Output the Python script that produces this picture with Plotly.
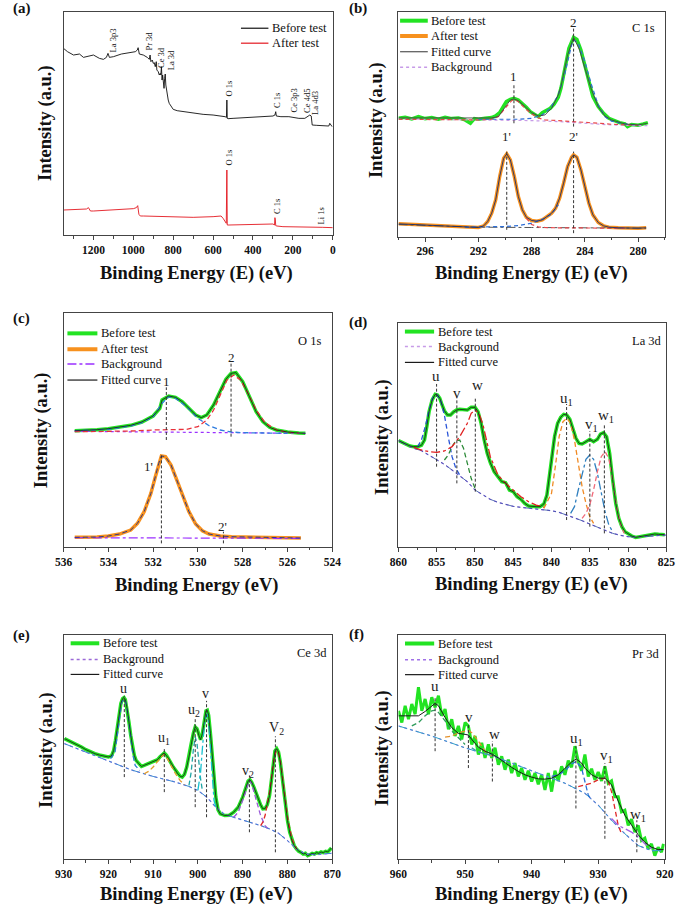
import plotly.graph_objects as go

SERIF = "Liberation Serif"
GREEN = "#22e322"
ORANGE = "#f7911e"
FIT = "#1a1a1a"

# ---------------- (a) survey ----------------
A_BEFORE_X = [1350, 1330, 1300, 1270, 1250, 1230, 1200, 1170, 1150, 1135, 1127, 1120, 1100, 1060, 1020, 990, 980, 976,
              970, 950, 930, 920, 916, 912, 905, 900, 895, 890, 885, 882, 875, 870, 865, 862, 859, 856, 853, 849, 846,
              843, 840, 837, 833, 830, 825, 820, 812, 800, 780, 750, 700, 650, 600, 560, 540, 533, 531, 529, 525, 500,
              450, 400, 350, 300, 290, 286, 283, 260, 220, 200, 170, 140, 125, 115, 108, 103, 80, 40, 20, 15, 10, 3]
A_BEFORE_Y = [560, 550, 540, 543, 533, 535, 540, 530, 527, 533, 545, 533, 535, 543, 547, 550, 555, 562,
              543, 540, 533, 527, 540, 520, 525, 515, 517, 505, 520, 495, 490, 480, 485, 480, 505, 465, 480, 455, 440,
              470, 483, 450, 430, 425, 405, 395, 387, 377, 373, 370, 365, 362, 360, 358, 355, 353, 405, 350, 349, 350,
              352, 353, 355, 357, 360, 370, 357, 355, 355, 353, 350, 350, 355, 360, 357, 330, 329, 328, 327, 335, 329, 325]
A_AFTER_X = [1350, 1300, 1250, 1235, 1225, 1215, 1200, 1150, 1100, 1050, 1000, 985, 978, 972, 965, 950, 900, 800, 700,
             600, 560, 550, 540, 534, 531, 529, 520, 450, 400, 350, 300, 292, 290, 288, 286, 280, 250, 200, 150, 100, 50, 0]
A_AFTER_Y = [75, 76, 77, 78, 82, 72, 72, 74, 75, 77, 79, 82, 88, 62, 57, 57, 56, 55, 53,
             55, 57, 50, 40, 35, 195, 30, 30, 31, 31, 32, 33, 30, 52, 45, 28, 27, 25, 25, 24, 24, 23, 22]
A_LABELS = ["La 3p3", "Pr 3d", "Ce 3d", "La 3d", "O 1s", "C 1s", "Ce 3p3", "Ce 4d5", "La 4d3", "O 1s", "C 1s", "Li 1s"]
A_LABEL_X = [1100, 922, 858, 810, 520, 283, 192, 133, 93, 520, 283, 57]
A_LABEL_Y = [585, 583, 533, 525, 440, 403, 405, 403, 397, 233, 85, 57]

# ---------------- (b) C 1s ----------------
B_BEFORE_X = [298.0, 297.5, 297.0, 296.5, 296.0, 295.5, 295.0, 294.5, 294.0, 293.5, 293.0, 292.6, 292.3, 292.0, 291.5,
              291.0, 290.7, 290.4, 290.1, 289.9, 289.6, 289.33, 289.0, 288.7, 288.4, 288.1, 287.8, 287.5, 287.2, 286.9,
              286.6, 286.3, 286.0, 285.8, 285.5, 285.2, 284.85, 284.6, 284.3, 284.0, 283.7, 283.4, 283.0, 282.6, 282.2,
              281.8, 281.4, 281.0, 280.8, 280.5, 280.0, 279.6, 279.27]
B_BEFORE_Y = [355, 358, 353, 360, 354, 357, 352, 358, 354, 356, 350, 340, 354, 352, 355,
              357, 362, 372, 392, 405, 412, 415, 410, 400, 388, 375, 366, 360, 372, 380,
              385, 398, 418, 445, 505, 565, 598, 592, 560, 510, 460, 420, 390, 370, 355,
              348, 342, 338, 330, 336, 334, 338, 342]
B_FIT_X = [298, 294, 291, 290.5, 290, 289.6, 289.33, 289, 288.5, 288, 287.5, 287, 286.5, 286, 285.8, 285.3, 284.85,
           284.4, 284, 283.5, 283, 282.5, 282, 281, 280, 279.3]
B_FIT_Y = [356, 355, 356, 360, 390, 410, 413, 408, 390, 372, 362, 365, 385, 425, 450, 545, 598,
           560, 505, 440, 390, 362, 350, 338, 335, 340]
B_C1_X = [298, 292, 291, 290.5, 290, 289.5, 289.33, 289, 288.5, 288, 287.5, 287, 286, 285, 284, 283, 282, 281, 280]
B_C1_Y = [352, 350, 352, 360, 385, 408, 412, 405, 385, 368, 356, 350, 348, 346, 343, 340, 337, 335, 334]
B_C2_X = [292, 289, 288, 287.2, 286.6, 286, 285.5, 285, 284.85, 284.5, 284, 283.5, 283, 282.5, 282, 281, 280]
B_C2_Y = [352, 352, 355, 365, 385, 425, 490, 575, 590, 580, 525, 455, 395, 360, 346, 338, 334]
B_BG_X = [298, 290, 288, 286, 284, 282, 280, 279.3]
B_BG_Y = [353, 350, 348, 345, 340, 335, 333, 333]
B_AFTER_X = [298.0, 297.5, 297.0, 296.5, 296.0, 295.5, 295.0, 294.5, 294.0, 293.5, 293.0, 292.5, 292.0, 291.6, 291.3,
             291.0, 290.7, 290.4, 290.1, 289.87, 289.6, 289.3, 289.0, 288.7, 288.4, 288.0, 287.6, 287.2, 286.8, 286.5,
             286.2, 285.9, 285.6, 285.3, 285.0, 284.85, 284.6, 284.3, 284.0, 283.7, 283.4, 283.0, 282.6, 282.2, 281.5,
             281.0, 280.5, 280.0, 279.4]
B_AFTER_Y = [38, 37, 35, 34, 33, 32, 32, 30, 30, 28, 28, 27, 27, 32, 45,
             70, 110, 180, 235, 248, 230, 180, 120, 80, 58, 48, 46, 50, 60, 70,
             85, 115, 160, 210, 238, 245, 238, 200, 150, 100, 65, 42, 32, 28, 26,
             25, 25, 25, 26]
B_AC1_X = [288.4, 288, 287.5, 287, 286, 285, 284, 283, 282, 281]
B_AC1_Y = [55, 36, 29, 27, 26, 26, 25, 25, 25, 25]
B_AC2_X = [293, 291, 290, 289, 288, 287, 286.5, 286]
B_AC2_Y = [28, 28, 30, 33, 40, 55, 68, 95]
B_ABG_X = [298, 292, 288, 284, 280, 279.4]
B_ABG_Y = [36, 28, 27, 26, 25, 25]
B_MARK_X = [289.33, 284.85, 289.87, 284.85]
B_MARK_TOP = [460, 625, 255, 255]
B_MARK_BOT = [340, 330, 20, 10]
B_TXT = ["1", "2", "1'", "2'"]
B_TXT_X = [289.33, 284.85, 289.9, 284.85]
B_TXT_Y = [480, 644, 300, 300]

# ---------------- (c) O 1s ----------------
C_BEFORE_X = [535.5, 535.0, 534.5, 534.0, 533.5, 533.0, 532.5, 532.0, 531.7, 531.6, 531.3, 531.0, 530.7, 530.4, 530.1,
              529.85, 529.6, 529.3, 529.0, 528.75, 528.52, 528.3, 528.0, 527.7, 527.4, 527.1, 526.8, 526.5, 526.0,
              525.5, 525.2]
C_BEFORE_Y = [348, 349, 351, 354, 358, 364, 374, 392, 415, 440, 452, 448, 435, 415, 395,
              387, 395, 425, 465, 502, 520, 522, 495, 450, 405, 375, 358, 350, 344,
              341, 340]
C_C1_X = [535.5, 534, 533, 532.5, 532, 531.6, 531.3, 531, 530.5, 530, 529.5, 529, 528.5, 528, 527, 526]
C_C1_Y = [348, 352, 362, 372, 390, 430, 450, 445, 420, 385, 363, 350, 344, 342, 341, 340]
C_C2_X = [535.5, 534, 533, 532, 531, 530.5, 530, 529.6, 529.3, 529, 528.7, 528.4, 528.1, 527.8, 527.4, 527, 526.5,
          526, 525.5]
C_C2_Y = [345, 345, 347, 350, 350, 352, 360, 380, 410, 455, 500, 515, 500, 465, 410, 372, 350, 343, 341]
C_BG_X = [535.5, 530, 525.2]
C_BG_Y = [346, 343, 340]
C_AFTER_X = [535.5, 535.0, 534.5, 534.0, 533.5, 533.0, 532.7, 532.4, 532.1, 531.9, 531.75, 531.63, 531.45, 531.2,
             531.0, 530.7, 530.4, 530.1, 529.8, 529.5, 529.0, 528.5, 528.0, 527.0, 526.0, 525.4]
C_AFTER_Y = [28, 28, 29, 32, 38, 50, 70, 105, 160, 210, 250, 272, 270, 245,
             210, 155, 105, 68, 48, 38, 32, 30, 29, 28, 26, 26]
C_ABG_X = [535.5, 525.4]
C_ABG_Y = [27, 25]
C_MARK_X = [531.41, 528.52, 531.63, 528.86]
C_MARK_TOP = [478, 550, 275, 45]
C_MARK_BOT = [320, 330, 10, 10]
C_TXT = ["1", "2", "1'", "2'"]
C_TXT_X = [531.41, 528.52, 532.2, 528.88]
C_TXT_Y = [496, 568, 240, 61]

# ---------------- (d) La 3d ----------------
D_BEFORE_X = [860.0, 859.5, 859.0, 858.5, 858.0, 857.5, 857.0, 856.6, 856.3, 856.0, 855.6, 855.2, 854.9, 854.6, 854.3,
              854.0, 853.6, 853.2, 852.8, 852.4, 852.0, 851.5, 851.0, 850.5, 850.0, 849.6, 849.2, 848.8, 848.4, 848.0,
              847.5, 847.0, 846.5, 846.0, 845.5, 845.0, 844.5, 844.0, 843.5, 843.0, 842.5, 842.0, 841.5, 841.0, 840.6,
              840.3, 840.0, 839.6, 839.2, 838.8, 838.4, 838.0, 837.6, 837.2, 836.8, 836.4, 836.0, 835.5, 835.0, 834.5,
              834.0, 833.6, 833.2, 832.8, 832.4, 832.0, 831.6, 831.2, 830.8, 830.4, 830.0, 829.5, 829.0, 828.5, 828.0,
              827.5, 827.0, 826.5, 826.0, 825.5, 825.2]
D_BEFORE_Y = [318, 312, 308, 302, 300, 300, 304, 320, 360, 405, 440, 457, 455, 445, 425,
              408, 395, 395, 404, 410, 412, 410, 410, 418, 418, 405, 370, 320, 280, 252,
              225, 210, 195, 192, 170, 165, 150, 142, 130, 122, 120, 120, 120, 128, 155,
              210, 270, 330, 370, 388, 397, 395, 382, 355, 325, 310, 308, 315, 322, 315,
              322, 338, 342, 330, 280, 200, 130, 85, 60, 45, 38, 32, 28, 30, 32,
              35, 37, 38, 37, 35, 36]
D_BG_X = [860, 858, 857, 856, 855, 854, 853, 852, 851, 850, 849, 848, 847, 846, 845, 844, 843, 842, 841, 840, 839, 838,
          837, 836, 835, 834, 833, 832, 831, 830, 829, 828, 826, 825]
D_BG_Y = [318, 295, 288, 275, 262, 247, 230, 212, 195, 170, 155, 142, 133, 126, 121, 118, 116, 114, 112, 108, 103, 95,
          88, 78, 68, 58, 48, 40, 34, 30, 29, 30, 34, 35]
D_U_X = [857.5, 857, 856.5, 856, 855.5, 855, 854.5, 854, 853.5, 853, 852.5, 852]
D_U_Y = [300, 320, 360, 410, 448, 457, 440, 395, 330, 270, 235, 215]
D_V_X = [854, 853.5, 853, 852.5, 852, 851.5, 851, 850.5, 850]
D_V_Y = [260, 275, 300, 318, 320, 295, 250, 205, 175]
D_W_X = [858, 857, 856, 855, 854, 853, 852, 851, 850.5, 850, 849.5, 849, 848, 847, 846, 845, 844, 843, 842, 841]
D_W_Y = [298, 290, 285, 283, 287, 300, 330, 370, 400, 410, 400, 370, 270, 215, 190, 170, 150, 135, 125, 118]
D_U1_X = [841, 840, 839.5, 839, 838.5, 838, 837.5, 837, 836.5, 836, 835.5, 835, 834.5]
D_U1_Y = [115, 160, 240, 330, 375, 385, 370, 320, 250, 180, 130, 90, 70]
D_V1_X = [837.5, 837, 836.5, 836, 835.5, 835, 834.5, 834, 833.5, 833, 832.5, 832]
D_V1_Y = [100, 120, 170, 220, 262, 275, 262, 220, 160, 105, 65, 45]
D_W1_X = [836, 835.5, 835, 834.5, 834, 833.5, 833, 832.5, 832, 831.5, 831, 830.5]
D_W1_Y = [85, 100, 125, 170, 225, 270, 285, 265, 200, 120, 70, 40]
D_MARK_X = [855.02, 852.37, 849.96, 838.03, 834.99, 833.09]
D_MARK_TOP = [488, 448, 450, 428, 347, 368]
D_MARK_BOT = [240, 190, 165, 80, 60, 40]
D_TXT = ["u", "v", "w", "u<sub>1</sub>", "v<sub>1</sub>", "w<sub>1</sub>"]
D_TXT_X = [855.1, 852.4, 849.7, 838.0, 834.8, 832.9]
D_TXT_Y = [512, 462, 485, 442, 365, 392]

# ---------------- (e) Ce 3d ----------------
E_BEFORE_X = [929.8, 929.0, 928.0, 927.0, 926.0, 925.0, 924.0, 923.0, 922.0, 921.0, 920.0, 919.3, 918.8, 918.4, 918.0,
              917.6, 917.2, 916.8, 916.5, 916.2, 915.8, 915.4, 915.0, 914.6, 914.2, 913.8, 913.2, 912.6, 912.0, 911.4,
              910.8, 910.2, 909.6, 909.0, 908.5, 908.0, 907.5, 907.0, 906.5, 906.0, 905.5, 905.0, 904.5, 904.0, 903.5,
              903.0, 902.5, 902.0, 901.5, 901.0, 900.6, 900.2, 899.8, 899.4, 899.0, 898.6, 898.2, 897.9, 897.6, 897.2,
              896.8, 896.4, 896.0, 895.5, 895.0, 894.0, 893.0, 892.0, 891.0, 890.0, 889.3, 888.8, 888.4, 888.0, 887.5,
              887.0, 886.5, 886.0, 885.5, 885.0, 884.5, 884.0, 883.6, 883.2, 882.8, 882.4, 882.0, 881.6, 881.2, 880.8,
              880.4, 880.0, 879.5, 879.0, 878.5, 878.0, 877.5, 877.0, 876.5, 876.0, 875.5, 875.0, 874.5, 874.0, 873.5,
              873.0, 872.5, 872.0, 871.5, 871.0, 870.5, 870.2]
E_BEFORE_Y = [360, 355, 347, 341, 335, 327, 320, 315, 311, 307, 305, 308, 325, 355, 395,
              435, 465, 480, 483, 477, 450, 410, 370, 335, 310, 295, 285, 277, 280, 283,
              287, 290, 293, 297, 305, 313, 317, 310, 300, 287, 275, 265, 255, 248, 245,
              253, 275, 305, 345, 377, 395, 390, 370, 357, 375, 415, 443, 445, 430, 375,
              305, 235, 185, 147, 135, 130, 131, 140, 155, 185, 215, 233, 237, 230, 215,
              200, 180, 162, 150, 151, 163, 190, 235, 285, 323, 330, 320, 290, 245, 195,
              150, 115, 80, 55, 40, 30, 23, 20, 15, 17, 10, 13, 17, 15, 19,
              17, 21, 19, 23, 21, 27, 33]
E_BG_X = [929.8, 925, 920, 915, 910, 905, 902, 900, 898, 896, 894, 892, 890, 888, 886, 884, 882, 880, 878, 876, 874,
          872, 870.2]
E_BG_Y = [345, 320, 295, 267, 247, 230, 217, 205, 185, 155, 133, 125, 117, 109, 100, 90, 77, 55, 30, 15, 13, 15, 17]
E_U_X = [919.5, 918.5, 918, 917.5, 917, 916.4, 916, 915.5, 915, 914.5, 914, 913]
E_U_Y = [300, 320, 370, 430, 470, 478, 465, 420, 360, 310, 280, 265]
E_U1_X = [912, 911, 910, 909, 908, 907.5, 907, 906, 905, 904, 903]
E_U1_Y = [255, 262, 275, 292, 308, 312, 305, 280, 255, 235, 222]
E_U2_X = [902, 901.5, 901, 900.6, 900.2, 899.8, 899.4, 899]
E_U2_Y = [220, 260, 330, 365, 345, 290, 240, 205]
E_V_X = [900, 899.4, 899, 898.5, 898, 897.6, 897.2, 896.8, 896.4, 896]
E_V_Y = [205, 260, 330, 410, 435, 410, 330, 240, 175, 155]
E_V2_X = [892, 891, 890, 889, 888.5, 888, 887, 886, 885, 884.5]
E_V2_Y = [125, 140, 175, 220, 235, 225, 180, 130, 100, 92]
E_VV2_X = [886, 885.5, 885, 884.5, 884, 883.5, 883, 882.5, 882, 881.5, 881, 880.5, 880, 879, 878]
E_VV2_Y = [100, 110, 130, 160, 200, 250, 300, 325, 318, 285, 240, 180, 125, 60, 30]
E_MARK_X = [916.43, 907.5, 900.6, 898.07, 888.5, 882.7]
E_MARK_TOP = [487, 330, 420, 473, 250, 367]
E_MARK_BOT = [245, 200, 155, 125, 80, 20]
E_TXT = ["u", "u<sub>1</sub>", "u<sub>2</sub>", "v", "v<sub>2</sub>", "V<sub>2</sub>"]
E_TXT_X = [916.5, 907.5, 900.9, 898.2, 888.8, 882.4]
E_TXT_Y = [511, 361, 443, 495, 262, 390]

# ---------------- (f) Pr 3d ----------------
F_BEFORE_X = [960.0, 959.5, 959.0, 958.5, 958.0, 957.5, 957.0, 956.5, 956.0, 955.5,
              955.0, 954.5, 954.0, 953.5, 953.0, 952.5, 952.0, 951.5, 951.0, 950.5,
              950.0, 949.5, 949.0, 948.5, 948.0, 947.5, 947.0, 946.5, 946.0, 945.5,
              945.0, 944.5, 944.0, 943.5, 943.0, 942.5, 942.0, 941.5, 941.0, 940.5,
              940.0, 939.5, 939.0, 938.5, 938.0, 937.5, 937.0, 936.5, 936.0, 935.5,
              935.0, 934.5, 934.0, 933.5, 933.0, 932.5, 932.0, 931.5, 931.0, 930.5,
              930.0, 929.5, 929.0, 928.5, 928.0, 927.5, 927.0, 926.5, 926.0, 925.5,
              925.0, 924.5, 924.0, 923.5, 923.0, 922.5, 922.0, 921.5, 921.0, 920.5, 920.2]
F_BEFORE_Y = [440, 405, 455, 415, 460, 430, 510, 440, 475, 430,
              480, 450, 485, 425, 445, 385, 415, 365, 395, 355,
              405, 395, 340, 365, 310, 345, 300, 340, 300, 330,
              280, 305, 265, 295, 255, 285, 245, 270, 235, 262,
              230, 255, 222, 250, 205, 255, 200, 262, 232, 275,
              250, 292, 272, 335, 290, 262, 310, 245, 268, 235,
              258, 232, 275, 225, 232, 185, 185, 140, 145, 100,
              118, 80, 100, 55, 62, 30, 45, 10, 35, 20, 45]
F_FIT_X = [960.0, 958.0, 957.0, 956.0, 955.0, 954.5, 954.0, 953.0, 952.0, 951.0, 950.0, 949.5, 949.0, 948.0, 947.0,
           946.0, 945.0, 944.0, 943.0, 942.0, 941.0, 940.0, 939.0, 938.0, 937.0, 936.0, 935.0, 934.0, 933.3, 932.5,
           932.0, 931.0, 930.0, 929.0, 928.0, 927.0, 926.0, 925.0, 924.0, 923.0, 922.0, 921.0, 920.2]
F_FIT_Y = [425, 425, 425, 438, 455, 462, 455, 420, 390, 373, 370, 368, 355, 332, 320,
           312, 300, 285, 272, 260, 250, 243, 238, 237, 240, 250, 268, 288, 297, 285,
           270, 250, 240, 240, 220, 172, 130, 100, 72, 50, 35, 28, 28]
F_BG_X = [960, 955, 950, 945, 940, 935, 932, 930, 928, 926, 924, 922, 920.2]
F_BG_Y = [395, 365, 330, 300, 262, 225, 195, 160, 115, 75, 40, 25, 25]
F_U_X = [958, 957, 956, 955, 954.5, 954, 953, 952, 951, 950]
F_U_Y = [395, 405, 425, 440, 442, 435, 410, 380, 360, 340]
F_V_X = [953, 952, 951, 950, 949.5, 949, 948, 947, 946]
F_V_Y = [362, 365, 375, 380, 382, 375, 350, 320, 305]
F_W_X = [949, 948, 947, 946, 945, 944]
F_W_Y = [330, 318, 312, 310, 300, 290]
F_U1_X = [937, 936, 935, 934, 933.3, 932.5, 932, 931.5, 931]
F_U1_Y = [245, 250, 262, 282, 290, 270, 230, 190, 175]
F_V1_X = [933, 932, 931, 930, 929, 928.5, 928, 927.5, 927, 926.5]
F_V1_Y = [215, 220, 225, 235, 240, 230, 200, 150, 100, 75]
F_W1_X = [928, 927, 926, 925, 924, 923, 922]
F_W1_Y = [120, 100, 90, 80, 65, 45, 30]
F_MARK_X = [954.5, 949.5, 945.9, 933.35, 929.0, 924.2]
F_MARK_TOP = [478, 400, 350, 335, 285, 115]
F_MARK_BOT = [320, 270, 230, 150, 60, 20]
F_TXT = ["u", "v", "w", "u<sub>1</sub>", "v<sub>1</sub>", "w<sub>1</sub>"]
F_TXT_X = [954.5, 949.4, 945.6, 933.3, 928.7, 924.0]
F_TXT_Y = [514, 422, 372, 356, 307, 130]

W, H = 685, 906
fig = go.Figure()


def sfx(i):
    return "" if i == 1 else str(i)


def curve(i, x, y, color, width=1.0, dash="solid"):
    fig.add_trace(go.Scatter(x=x, y=y, mode="lines", line=dict(color=color, width=width, dash=dash),
                             xaxis="x" + sfx(i), yaxis="y" + sfx(i), showlegend=False, hoverinfo="skip"))


def marks(i, xs, tops, bots, texts, tx, ty, size):
    for x, t, b in zip(xs, tops, bots):
        curve(i, [x, x], [b, t], "#333333", 1, "3px,2px")
    for s, x, y in zip(texts, tx, ty):
        fig.add_annotation(xref="x" + sfx(i), yref="y" + sfx(i), x=x, y=y, text=s, showarrow=False,
                           xanchor="center", yanchor="middle",
                           font=dict(family=SERIF, size=size, color="#222"))


def key(i, rows, x0, x1, ys):
    for (label, color, width, dash), y in zip(rows, ys):
        fig.add_shape(type="line", xref="x%s domain" % sfx(i), yref="y%s domain" % sfx(i),
                      x0=x0, x1=x1, y0=y, y1=y, line=dict(color=color, width=width, dash=dash))
        fig.add_annotation(xref="x%s domain" % sfx(i), yref="y%s domain" % sfx(i), x=x1 + 0.006, y=y,
                           xanchor="left", yanchor="middle", text=label, showarrow=False,
                           font=dict(family=SERIF, size=12.5, color="#111"))


def tag(i, text, x, y):
    fig.add_annotation(xref="x%s domain" % sfx(i), yref="y%s domain" % sfx(i), x=x, y=y, xanchor="right",
                       yanchor="middle", text=text, showarrow=False,
                       font=dict(family=SERIF, size=12.5, color="#111"))


def axes(i, x0, x1, y0, y1, xr, yr, dtick, minor):
    line = dict(showline=True, mirror=True, linecolor="#444", linewidth=1, showgrid=False, zeroline=False)
    fig.layout["xaxis" + sfx(i)] = dict(domain=[x0 / W, x1 / W], range=xr, dtick=dtick, tick0=0,
                                        ticks="outside", ticklen=4, tickwidth=1, tickcolor="#444",
                                        minor=dict(dtick=minor, ticks="outside", ticklen=2.5, tickcolor="#444"),
                                        tickfont=dict(family=SERIF, size=11.5, color="#111", weight="bold"),
                                        anchor="y" + sfx(i), **line)
    fig.layout["yaxis" + sfx(i)] = dict(domain=[1 - y1 / H, 1 - y0 / H], range=yr, showticklabels=False,
                                        ticks="", anchor="x" + sfx(i), **line)


axes(1, 56, 332.5, 11.7, 235, [1350, 0], [0, 670], 200, 100)
axes(2, 400, 673.5, 11.7, 236.5, [298, 278], [0, 675], 4, 2)
axes(3, 56, 332, 313.3, 546.7, [536, 524], [0, 700], 2, 1)
axes(4, 400, 675, 323.3, 546.7, [860, 825], [0, 670], 5, 2.5)
axes(5, 56, 332, 635, 859, [930, 870], [0, 670], 10, 5)
axes(6, 400, 673.5, 635, 859, [960, 920], [0, 665], 10, 5)

# (a)
curve(1, A_BEFORE_X, A_BEFORE_Y, "#111111", 0.9)
curve(1, A_AFTER_X, A_AFTER_Y, "#e3171f", 0.9)
for s, x, y in zip(A_LABELS, A_LABEL_X, A_LABEL_Y):
    fig.add_annotation(xref="x", yref="y", x=x, y=y, text=s, textangle=-90, showarrow=False,
                       xanchor="center", yanchor="middle",
                       font=dict(family=SERIF, size=8.5, color="#111"))
key(1, [("Before test", "#111111", 1.2, "solid"), ("After test", "#e3171f", 1.2, "solid")],
    0.659, 0.761, [0.926, 0.859])

# (b)
curve(2, B_BEFORE_X, B_BEFORE_Y, GREEN, 3.5)
curve(2, B_BG_X, B_BG_Y, "#c79be8", 1.2, "dot")
curve(2, B_C1_X, B_C1_Y, "#e8454a", 1.2, "4px,3px")
curve(2, B_C2_X, B_C2_Y, "#2f6fd6", 1.2, "4px,3px")
curve(2, B_FIT_X, B_FIT_Y, "#444444", 0.9)
curve(2, B_AFTER_X, B_AFTER_Y, ORANGE, 3.5)
curve(2, B_ABG_X, B_ABG_Y, "#555555", 1, "dashdot")
curve(2, B_AC1_X, B_AC1_Y, "#e8454a", 1.2, "4px,3px")
curve(2, B_AC2_X, B_AC2_Y, "#2f6fd6", 1.2, "4px,3px")
curve(2, B_AFTER_X, B_AFTER_Y, "#1c2f6e", 0.9)
marks(2, B_MARK_X, B_MARK_TOP, B_MARK_BOT, B_TXT, B_TXT_X, B_TXT_Y, 13)
key(2, [("Before test", GREEN, 4, "solid"), ("After test", ORANGE, 4, "solid"),
        ("Fitted curve", "#555555", 1.2, "solid"), ("Background", "#c79be8", 1.5, "dot")],
    0.006, 0.11, [0.96, 0.892, 0.822, 0.753])
tag(2, "C 1s", 0.97, 0.926)

# (c)
curve(3, C_BEFORE_X, C_BEFORE_Y, GREEN, 3.5)
curve(3, C_BG_X, C_BG_Y, "#9b30ff", 1.2, "dot")
curve(3, C_C2_X, C_C2_Y, "#e8303a", 1.3, "5px,3px")
curve(3, C_C1_X, C_C1_Y, "#2f7de0", 1.3, "5px,3px")
curve(3, C_BEFORE_X, C_BEFORE_Y, FIT, 0.8)
curve(3, C_AFTER_X, C_AFTER_Y, ORANGE, 3.5)
curve(3, C_ABG_X, C_ABG_Y, "#9b30ff", 1.2, "dashdot")
curve(3, C_AFTER_X, C_AFTER_Y, "#1c2f8e", 0.9, "5px,3px")
marks(3, C_MARK_X, C_MARK_TOP, C_MARK_BOT, C_TXT, C_TXT_X, C_TXT_Y, 13)
key(3, [("Before test", GREEN, 4, "solid"), ("After test", ORANGE, 4, "solid"),
        ("Background", "#9b30ff", 1.5, "dashdot"), ("Fitted curve", FIT, 1.2, "solid")],
    0.0145, 0.126, [0.914, 0.846, 0.783, 0.714])
tag(3, "O 1s", 0.964, 0.881)

# (d)
curve(4, D_BEFORE_X, D_BEFORE_Y, GREEN, 3.5)
curve(4, D_BG_X, D_BG_Y, "#a070e8", 1.2, "dot")
curve(4, D_BG_X, D_BG_Y, "#3050a0", 0.8, "dashdot")
curve(4, D_U_X, D_U_Y, "#2a55d8", 1.3, "5px,3px")
curve(4, D_V_X, D_V_Y, "#2e8b3a", 1.3, "5px,3px")
curve(4, D_W_X, D_W_Y, "#e02020", 1.3, "dashdot")
curve(4, D_U1_X, D_U1_Y, "#f08a24", 1.3, "5px,3px")
curve(4, D_V1_X, D_V1_Y, "#2f7fbf", 1.3, "dashdot")
curve(4, D_W1_X, D_W1_Y, "#f06a7a", 1.3, "5px,3px")
curve(4, D_BEFORE_X, D_BEFORE_Y, FIT, 0.8)
marks(4, D_MARK_X, D_MARK_TOP, D_MARK_BOT, D_TXT, D_TXT_X, D_TXT_Y, 15)
key(4, [("Before test", GREEN, 4, "solid"), ("Background", "#c79be8", 1.5, "dot"),
        ("Fitted curve", FIT, 1.2, "solid")],
    0.024, 0.133, [0.963, 0.896, 0.825])
tag(4, "La 3d", 0.99, 0.922)

# (e)
curve(5, E_BEFORE_X, E_BEFORE_Y, GREEN, 3.5)
curve(5, E_BG_X, E_BG_Y, "#a070e8", 1.2, "dot")
curve(5, E_BG_X, E_BG_Y, "#3a8ad0", 1.0, "dashdot")
curve(5, E_U_X, E_U_Y, "#2a7fd0", 1.3, "5px,3px")
curve(5, E_U1_X, E_U1_Y, "#e39a2a", 1.3, "5px,3px")
curve(5, E_U2_X, E_U2_Y, "#1fa5a5", 1.3, "5px,3px")
curve(5, E_V_X, E_V_Y, "#17c0d0", 1.3, "dashdot")
curve(5, E_V2_X, E_V2_Y, "#9a5ad8", 1.3, "5px,3px")
curve(5, E_VV2_X, E_VV2_Y, "#e02828", 1.3, "5px,3px")
curve(5, E_BEFORE_X, E_BEFORE_Y, FIT, 0.8)
marks(5, E_MARK_X, E_MARK_TOP, E_MARK_BOT, E_TXT, E_TXT_X, E_TXT_Y, 14)
key(5, [("Before test", GREEN, 4, "solid"), ("Background", "#9b6ad8", 1.5, "dot"),
        ("Fitted curve", FIT, 1.2, "solid")],
    0.0265, 0.133, [0.963, 0.891, 0.824])
tag(5, "Ce 3d", 0.988, 0.918)

# (f)
curve(6, F_BEFORE_X, F_BEFORE_Y, GREEN, 3)
curve(6, F_BG_X, F_BG_Y, "#a070e8", 1.2, "dot")
curve(6, F_BG_X, F_BG_Y, "#2fa0c8", 1.0, "dashdot")
curve(6, F_U_X, F_U_Y, "#2e9b5a", 1.3, "5px,3px")
curve(6, F_V_X, F_V_Y, "#e3902a", 1.3, "5px,3px")
curve(6, F_W_X, F_W_Y, "#3aa0a0", 1.3, "5px,3px")
curve(6, F_U1_X, F_U1_Y, "#2a6fd8", 1.3, "5px,3px")
curve(6, F_V1_X, F_V1_Y, "#e02828", 1.3, "5px,3px")
curve(6, F_W1_X, F_W1_Y, "#a060e0", 1.3, "dashdot")
curve(6, F_FIT_X, F_FIT_Y, FIT, 1)
marks(6, F_MARK_X, F_MARK_TOP, F_MARK_BOT, F_TXT, F_TXT_X, F_TXT_Y, 15)
key(6, [("Before test", GREEN, 4, "solid"), ("Background", "#a070e8", 1.5, "dot"),
        ("Fitted curve", FIT, 1.2, "solid")],
    0.0245, 0.134, [0.962, 0.89, 0.823])
tag(6, "Pr 3d", 0.984, 0.917)

# titles and panel letters
XT = [(193, 273, "Binding Energy (E) (eV)"), (537, 273, "Binding Energy (E) (eV)"),
      (193, 585, "Binding Energy (eV)"), (537, 584, "Binding Energy (E) (eV)"),
      (193, 894, "Binding Energy (E) (eV)"), (537, 894, "Binding Energy (E) (eV)")]
YT = [(37, 123), (377, 120), (33, 430), (383, 437), (38, 750), (383, 748)]
LT = [(2, 8, "(a)"), (347, 8, "(b)"), (2, 318, "(c)"), (347, 322, "(d)"), (2, 635, "(e)"), (347, 634, "(f)")]
for x, y, s in XT:
    fig.add_annotation(xref="paper", yref="paper", x=x / W, y=1 - y / H, text="<b>%s</b>" % s, showarrow=False,
                       xanchor="center", yanchor="middle",
                       font=dict(family=SERIF, size=18.5, color="#111"))
for x, y in YT:
    fig.add_annotation(xref="paper", yref="paper", x=x / W, y=1 - y / H, text="<b>Intensity (a.u.)</b>",
                       textangle=-90, showarrow=False, xanchor="center", yanchor="middle",
                       font=dict(family=SERIF, size=18.5, color="#111"))
for x, y, s in LT:
    fig.add_annotation(xref="paper", yref="paper", x=x / W, y=1 - y / H, xanchor="left", yanchor="middle",
                       text="<b>%s</b>" % s, showarrow=False, font=dict(family=SERIF, size=15, color="#111"))

fig.update_layout(width=W, height=H, margin=dict(l=0, r=0, t=0, b=0), plot_bgcolor="white",
                  paper_bgcolor="white", showlegend=False)

# the default page body has an 8px margin; drop it so the figure sits at the window origin
fig.write_html("out.html", config={"displayModeBar": False},
               post_script="document.body.style.margin='0';document.body.style.padding='0';")
